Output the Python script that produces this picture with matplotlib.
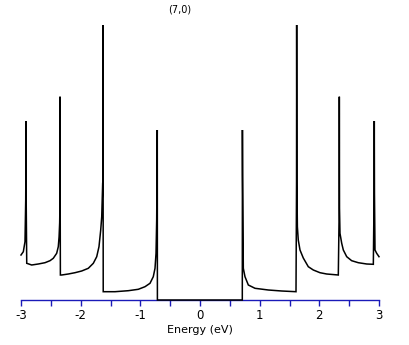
import matplotlib
matplotlib.use("Agg")
import matplotlib.pyplot as plt
from matplotlib.ticker import MultipleLocator

# Energy (eV) and density of states (arbitrary units)
energy = [
    -3.000, -2.961, -2.933, -2.921, -2.918, -2.916, -2.913, -2.904,
    -2.821, -2.710, -2.598, -2.514, -2.459, -2.402, -2.375, -2.362, -2.352,
    -2.348, -2.346, -2.343, -2.340,
    -2.318, -2.207, -2.095, -1.983, -1.872, -1.788, -1.731, -1.693, -1.664,
    -1.647, -1.631, -1.628, -1.626, -1.622,
    -1.425, -1.202, -1.034, -0.922, -0.838, -0.783, -0.754, -0.737, -0.726,
    -0.721, -0.716, -0.714,
    0.709, 0.711, 0.714,
    0.726, 0.754, 0.810, 0.922, 1.145, 1.369, 1.609,
    1.618, 1.620, 1.624, 1.632, 1.647, 1.676, 1.731, 1.815, 1.899, 2.011,
    2.123, 2.318,
    2.333, 2.335, 2.338, 2.346, 2.375, 2.402, 2.459, 2.542, 2.653, 2.794, 2.905,
    2.918, 2.921, 2.924, 2.933, 2.961, 3.000,
]
dos = [
    0.450, 0.483, 0.583, 1.000, 1.370, 1.790, 1.000, 0.367,
    0.350, 0.360, 0.373, 0.393, 0.417, 0.467, 0.533, 0.630, 0.770,
    0.930, 2.033, 0.930, 0.250,
    0.250, 0.260, 0.273, 0.290, 0.317, 0.367, 0.433, 0.533, 0.700,
    0.833, 1.170, 1.180, 2.750, 0.083,
    0.083, 0.093, 0.107, 0.133, 0.167, 0.233, 0.317, 0.467, 0.800,
    1.233, 1.700, 0.000,
    0.000, 1.700, 1.250,
    0.317, 0.233, 0.150, 0.117, 0.100, 0.090, 0.083,
    1.170, 2.750, 1.170, 0.733, 0.600, 0.500, 0.420, 0.333, 0.300, 0.273,
    0.260, 0.250,
    0.920, 2.033, 0.920, 0.667, 0.567, 0.500, 0.433, 0.393, 0.373, 0.360, 0.357,
    1.070, 1.790, 1.070, 0.500, 0.467, 0.433,
]

xticks = [-3, -2, -1, 0, 1, 2, 3]
xticklabels = ["-3", "-2", "-1", "0", "1", "2", "3"]
title = "(7,0)"
xlabel = "Energy (eV)"

W, H = 409, 345
fig = plt.figure(figsize=(W / 100, H / 100), dpi=100)
ax = fig.add_axes([21 / W, 45 / H, 358 / W, 280 / H])

ax.plot(energy, dos, color="black", linewidth=1.1, zorder=3, clip_on=False,
        solid_joinstyle="miter")

ax.set_xlim(-3, 3)
ax.set_ylim(0, 2.80)

for s in ("left", "right", "top"):
    ax.spines[s].set_visible(False)
blue = "#1a1ab8"
ax.spines["bottom"].set_color(blue)
ax.spines["bottom"].set_linewidth(1.0)
ax.set_yticks([])
ax.set_xticks(xticks)
ax.set_xticklabels(xticklabels)
ax.xaxis.set_minor_locator(MultipleLocator(0.5))
ax.tick_params(axis="x", which="both", direction="out", length=4.5, width=1.0,
               color=blue, labelsize=8.5, labelcolor="black", pad=2)
ax.set_xlabel(xlabel, fontsize=8, labelpad=2)

fig.text(180 / W, 1 - 9 / H, title, ha="center", va="center", fontsize=7)

fig.savefig("out.png", dpi=100)
